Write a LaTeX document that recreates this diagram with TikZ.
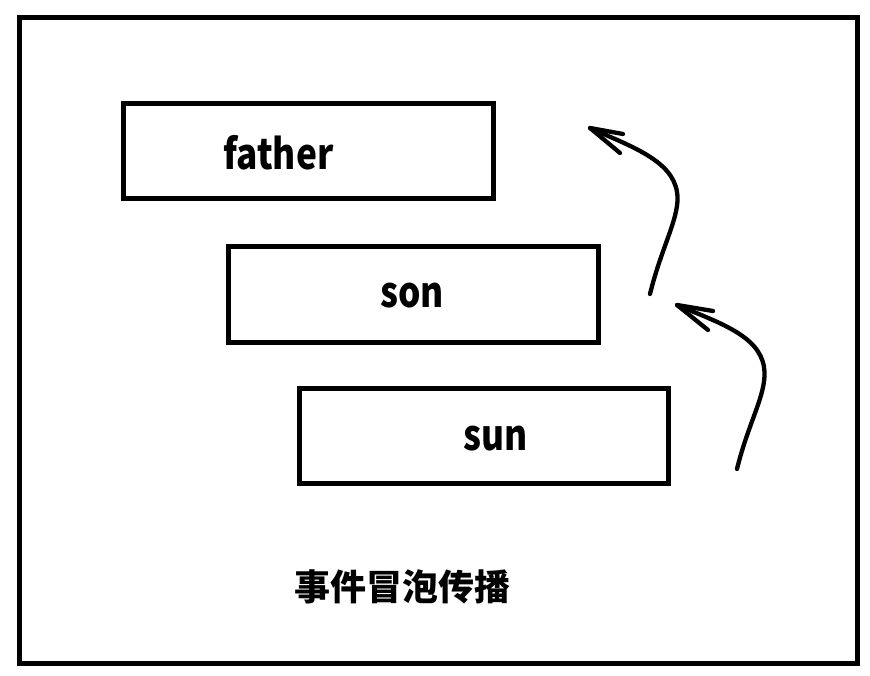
\documentclass[tikz,border=0pt]{standalone}
\usepackage{fontspec}
\setmainfont{Noto Sans}
\newfontfamily\cjk{Noto Sans CJK SC}
\newcommand{\narrowtxt}[1]{\scalebox{0.84}[1]{#1}}
\begin{document}
\begin{tikzpicture}[x=1pt,y=-1pt,
  boxstyle/.style={draw=black,line width=5pt,minimum width=369.5pt,minimum height=95.5pt,inner sep=0pt},
  lbl/.style={font=\cjk\fontsize{42}{44}\selectfont\bfseries},
  curvearrow/.style={line width=4.3pt,line cap=round,line join=round}]
\useasboundingbox (0,0) rectangle (870,676);
\fill[white] (0,0) rectangle (870,676);
\draw[line width=5pt] (19.5,17.5) rectangle (857,663);
\node[boxstyle] (father) at (308.25,151.25) {};
\node[boxstyle] (son) at (413.5,294.3) {};
\node[boxstyle] (sun) at (483.75,436) {};
\node[lbl] (tf) at (278.5,153) {\narrowtxt{father}};
\node[lbl] (ts) at (412,296) {\narrowtxt{son}};
\node[lbl] (tu) at (495.5,439) {\narrowtxt{sun}};
\node[font=\cjk\fontsize{36}{40}\selectfont\bfseries] (title) at (402,587) {事件冒泡传播};
\coordinate (a1s) at (650,294);
\coordinate (a1m) at (677,192);
\coordinate (a1t) at (590,128);
\coordinate (a1b1) at (623,134);
\coordinate (a1b2) at (620,153);
\draw[curvearrow] (a1s) .. controls (662,245) and (681,215) .. (a1m) .. controls (672,160) and (630,146) .. (a1t);
\draw[curvearrow] (a1b1) -- (a1t) -- (a1b2);
\coordinate (a2s) at (737,469);
\coordinate (a2m) at (764,367);
\coordinate (a2t) at (677,305);
\coordinate (a2b1) at (713,311);
\coordinate (a2b2) at (708,330);
\draw[curvearrow] (a2s) .. controls (749,420) and (768,392) .. (a2m) .. controls (759,335) and (717,322) .. (a2t);
\draw[curvearrow] (a2b1) -- (a2t) -- (a2b2);
\end{tikzpicture}
\end{document}
